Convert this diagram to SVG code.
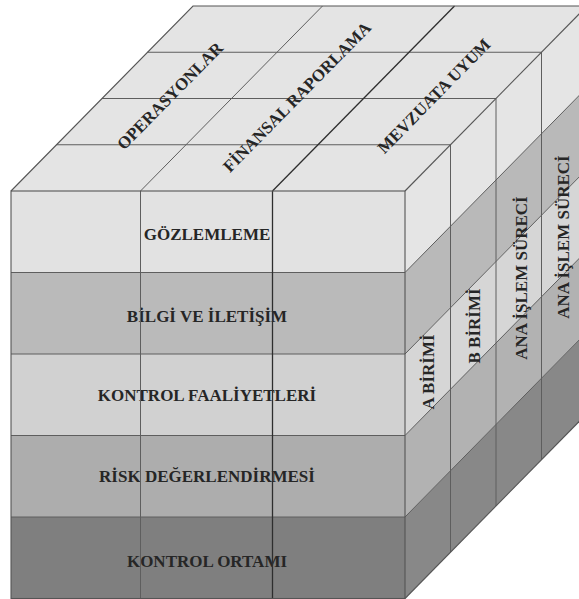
<svg xmlns="http://www.w3.org/2000/svg" width="579" height="599" viewBox="0 0 579 599">
  <style>
    .grid { stroke: #5e5e5e; stroke-width: 1; fill: none; }
    .edge { stroke: #555555; stroke-width: 1.1; fill: none; }
    .dark { stroke: #2e2e2e; stroke-width: 1.3; fill: none; }
    .lbl { font-family: "Liberation Serif", "Times New Roman", serif; font-weight: bold; font-size: 17px; fill: #262626; text-anchor: middle; }
  </style>
  <rect width="579" height="599" fill="#ffffff"/>

  <!-- top face: objectives -->
  <g id="top-face">
    <polygon points="11,191 405,191 587,6 193,6" fill="#e4e4e4"/>
  </g>

  <!-- right face: organisational units, banded by component -->
  <g id="side-face">
    <polygon points="405,191 587,6 587,87.5 405,272.5" fill="#e5e5e5"/>
    <polygon points="405,272.5 587,87.5 587,169 405,354" fill="#b9b9b9"/>
    <polygon points="405,354 587,169 587,250.5 405,435.5" fill="#d6d6d6"/>
    <polygon points="405,435.5 587,250.5 587,332 405,517" fill="#b2b2b2"/>
    <polygon points="405,517 587,332 587,413.5 405,598.5" fill="#888888"/>
  </g>

  <!-- front face: five components -->
  <g id="comp-gozlemleme">
    <rect x="11" y="191" width="394" height="81.5" fill="#e2e2e2"/>
    <text class="lbl" x="207" y="240">GÖZLEMLEME</text>
  </g>
  <g id="comp-bilgi">
    <rect x="11" y="272.5" width="394" height="81.5" fill="#bababa"/>
    <text class="lbl" x="207" y="321.5">BİLGİ VE İLETİŞİM</text>
  </g>
  <g id="comp-kontrol-faaliyetleri">
    <rect x="11" y="354" width="394" height="81.5" fill="#d1d1d1"/>
    <text class="lbl" x="207" y="400.5">KONTROL FAALİYETLERİ</text>
  </g>
  <g id="comp-risk">
    <rect x="11" y="435.5" width="394" height="81.5" fill="#adadad"/>
    <text class="lbl" x="207" y="481.5">RİSK DEĞERLENDİRMESİ</text>
  </g>
  <g id="comp-kontrol-ortami">
    <rect x="11" y="517" width="394" height="81.5" fill="#7f7f7f"/>
    <text class="lbl" x="207" y="566.5">KONTROL ORTAMI</text>
  </g>

  <!-- grid lines and edges -->
  <g id="connectors">
    <!-- top face depth rows -->
    <line class="grid" x1="56.5" y1="144.75" x2="450.5" y2="144.75"/>
    <line class="grid" x1="102" y1="98.5" x2="496" y2="98.5"/>
    <line class="grid" x1="147.5" y1="52.25" x2="541.5" y2="52.25"/>
    <!-- top face column dividers -->
    <line class="grid" x1="140.5" y1="191" x2="322.5" y2="6" stroke="#7a7a7a"/>
    <line class="dark" x1="272.5" y1="191" x2="454.5" y2="6"/>
    <!-- front band dividers -->
    <line class="grid" x1="11" y1="272.5" x2="405" y2="272.5"/>
    <line class="grid" x1="11" y1="354" x2="405" y2="354"/>
    <line class="grid" x1="11" y1="435.5" x2="405" y2="435.5"/>
    <line class="grid" x1="11" y1="517" x2="405" y2="517"/>
    <!-- front column dividers -->
    <line class="grid" x1="140.5" y1="191" x2="140.5" y2="598.5" stroke="#555555"/>
    <line class="dark" x1="272.5" y1="191" x2="272.5" y2="598.5"/>
    <!-- side band dividers -->
    <line class="grid" x1="405" y1="272.5" x2="587" y2="87.5"/>
    <line class="grid" x1="405" y1="354" x2="587" y2="169"/>
    <line class="grid" x1="405" y1="435.5" x2="587" y2="250.5"/>
    <line class="grid" x1="405" y1="517" x2="587" y2="332"/>
    <!-- side column dividers -->
    <line class="grid" x1="450.5" y1="144.75" x2="450.5" y2="552.25"/>
    <line class="grid" x1="496" y1="98.5" x2="496" y2="506"/>
    <line class="grid" x1="541.5" y1="52.25" x2="541.5" y2="459.75"/>
    <!-- outer edges -->
    <polyline class="edge" points="11,191 193,6 587,6"/>
    <rect class="edge" x="11" y="191" width="394" height="407.5"/>
    <line class="edge" x1="405" y1="191" x2="587" y2="6"/>
    <line class="edge" x1="405" y1="598.5" x2="587" y2="413.5"/>
  </g>

  <!-- objective labels on the top face -->
  <g id="obj-operasyonlar">
    <text class="lbl" transform="translate(170,96) rotate(-45.5)" y="5.6">OPERASYONLAR</text>
  </g>
  <g id="obj-finansal">
    <text class="lbl" transform="translate(297,97) rotate(-45.5)" y="5.6">FİNANSAL RAPORLAMA</text>
  </g>
  <g id="obj-mevzuat">
    <text class="lbl" transform="translate(434,96) rotate(-45.5)" y="5.6">MEVZUATA UYUM</text>
  </g>

  <!-- unit labels on the right face -->
  <g id="unit-a">
    <text class="lbl" transform="translate(428,372) rotate(-90)" y="5.6">A BİRİMİ</text>
  </g>
  <g id="unit-b">
    <text class="lbl" transform="translate(474,326) rotate(-90)" y="5.6">B BİRİMİ</text>
  </g>
  <g id="unit-process-1">
    <text class="lbl" transform="translate(521,278) rotate(-90)" y="5.6">ANA İŞLEM SÜRECİ</text>
  </g>
  <g id="unit-process-2">
    <text class="lbl" transform="translate(563,237) rotate(-90)" y="5.6">ANA İŞLEM SÜRECİ</text>
  </g>
</svg>
